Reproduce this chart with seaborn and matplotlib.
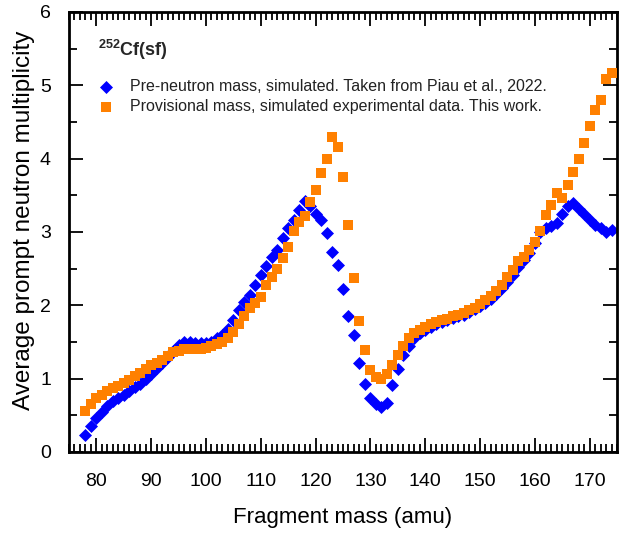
import numpy as np
import pandas as pd
import matplotlib
matplotlib.use("Agg")
import matplotlib.pyplot as plt
import seaborn as sns
from matplotlib.ticker import MultipleLocator

# ---- data ----
mass = list(range(78, 175))

pre_neutron = [
    0.23, 0.35, 0.47, 0.54, 0.63, 0.69, 0.74, 0.78, 0.83, 0.88,   # 78-87
    0.93, 0.99, 1.07, 1.15, 1.21, 1.30, 1.38, 1.46, 1.50, 1.50,   # 88-97
    1.49, 1.48, 1.48, 1.50, 1.55, 1.60, 1.68, 1.80, 1.93, 2.05,   # 98-107
    2.14, 2.28, 2.42, 2.54, 2.66, 2.75, 2.92, 3.05, 3.17, 3.30,   # 108-117
    3.42, 3.35, 3.25, 3.16, 2.98, 2.73, 2.55, 2.22, 1.86, 1.59,   # 118-127
    1.22, 0.93, 0.73, 0.65, 0.61, 0.67, 0.91, 1.13, 1.32, 1.45,   # 128-137
    1.55, 1.62, 1.67, 1.71, 1.74, 1.77, 1.80, 1.83, 1.85, 1.87,   # 138-147
    1.91, 1.95, 1.99, 2.03, 2.08, 2.15, 2.23, 2.32, 2.42, 2.52,   # 148-157
    2.62, 2.72, 2.85, 3.00, 3.05, 3.08, 3.12, 3.25, 3.35, 3.40,   # 158-167
    3.32, 3.24, 3.16, 3.10, 3.05, 3.00, 3.03,                     # 168-174
]

provisional = [
    0.56, 0.66, 0.73, 0.78, 0.83, 0.87, 0.90, 0.94, 0.98, 1.03,   # 78-87
    1.08, 1.13, 1.18, 1.22, 1.26, 1.31, 1.36, 1.38, 1.40, 1.40,   # 88-97
    1.40, 1.41, 1.42, 1.44, 1.47, 1.50, 1.55, 1.63, 1.75, 1.86,   # 98-107
    1.96, 2.03, 2.12, 2.28, 2.39, 2.50, 2.64, 2.80, 3.01, 3.13,   # 108-117
    3.22, 3.41, 3.57, 3.80, 4.00, 4.29, 4.16, 3.75, 3.09, 2.37,   # 118-127
    1.78, 1.39, 1.12, 1.02, 1.00, 1.07, 1.18, 1.32, 1.45, 1.55,   # 128-137
    1.62, 1.67, 1.70, 1.74, 1.77, 1.80, 1.82, 1.85, 1.87, 1.90,   # 138-147
    1.93, 1.97, 2.02, 2.07, 2.13, 2.20, 2.28, 2.38, 2.48, 2.60,   # 148-157
    2.66, 2.75, 2.87, 3.02, 3.23, 3.37, 3.53, 3.47, 3.64, 3.82,   # 158-167
    4.00, 4.21, 4.44, 4.66, 4.80, 5.09, 5.17,                     # 168-174
]

label_pre = "Pre-neutron mass, simulated. Taken from Piau et al., 2022."
label_prov = "Provisional mass, simulated experimental data. This work."
x_ticks = [80, 90, 100, 110, 120, 130, 140, 150, 160, 170]
y_ticks = [0, 1, 2, 3, 4, 5, 6]

df_pre = pd.DataFrame({"mass": mass, "nu": pre_neutron})
df_prov = pd.DataFrame({"mass": mass, "nu": provisional})

# ---- style ----
sns.set_theme(style="ticks")
plt.rcParams["font.family"] = ["Liberation Sans", "DejaVu Sans"]
plt.rcParams["mathtext.fontset"] = "custom"
plt.rcParams["mathtext.rm"] = "Liberation Sans"
plt.rcParams["mathtext.bf"] = "Liberation Sans:bold"

fig = plt.figure(figsize=(6.22, 5.34), dpi=100)
ax = fig.add_axes([69 / 622, 1 - 452 / 534, 548 / 622, 440 / 534])

sns.scatterplot(data=df_pre, x="mass", y="nu", ax=ax, marker="D", s=44,
                color="#0000ff", linewidth=0, label=label_pre, zorder=2)
sns.scatterplot(data=df_prov, x="mass", y="nu", ax=ax, marker="s", s=50,
                color="#ff8000", linewidth=0, label=label_prov, zorder=3)

ax.set_xlim(75, 175)
ax.set_ylim(0, 6)
ax.set_xticks(x_ticks)
ax.set_yticks(y_ticks)
ax.xaxis.set_minor_locator(MultipleLocator(1))
ax.yaxis.set_minor_locator(MultipleLocator(0.5))
ax.tick_params(which="both", direction="in", top=True, right=True,
               width=1.3, color="black", labelcolor="black")
ax.tick_params(which="major", length=10, labelsize=14)
ax.tick_params(axis="x", which="major", pad=15)
ax.tick_params(axis="y", which="major", pad=13)
ax.tick_params(which="minor", length=5.5)
for sp in ax.spines.values():
    sp.set_linewidth(2)
    sp.set_color("black")

ax.set_xlabel("Fragment mass (amu)", fontsize=16, color="black", labelpad=12)
ax.set_ylabel("Average prompt neutron multiplicity", fontsize=17.5,
              color="black")
ax.yaxis.set_label_coords(-0.062, 0.527)

ax.text(0.053, 0.9, r"$\mathbf{^{252}}$Cf(sf)", transform=ax.transAxes,
        fontsize=13, fontweight="bold", va="baseline", ha="left")

leg = ax.legend(loc="upper left", bbox_to_anchor=(0.0523, 0.847),
                frameon=False, fontsize=11.5, handlelength=1.0,
                handletextpad=1.02, borderpad=0, borderaxespad=0,
                labelspacing=0.3, markerscale=1.0)
for t in leg.get_texts():
    t.set_color("#222222")

fig.savefig("out.png", dpi=100)
